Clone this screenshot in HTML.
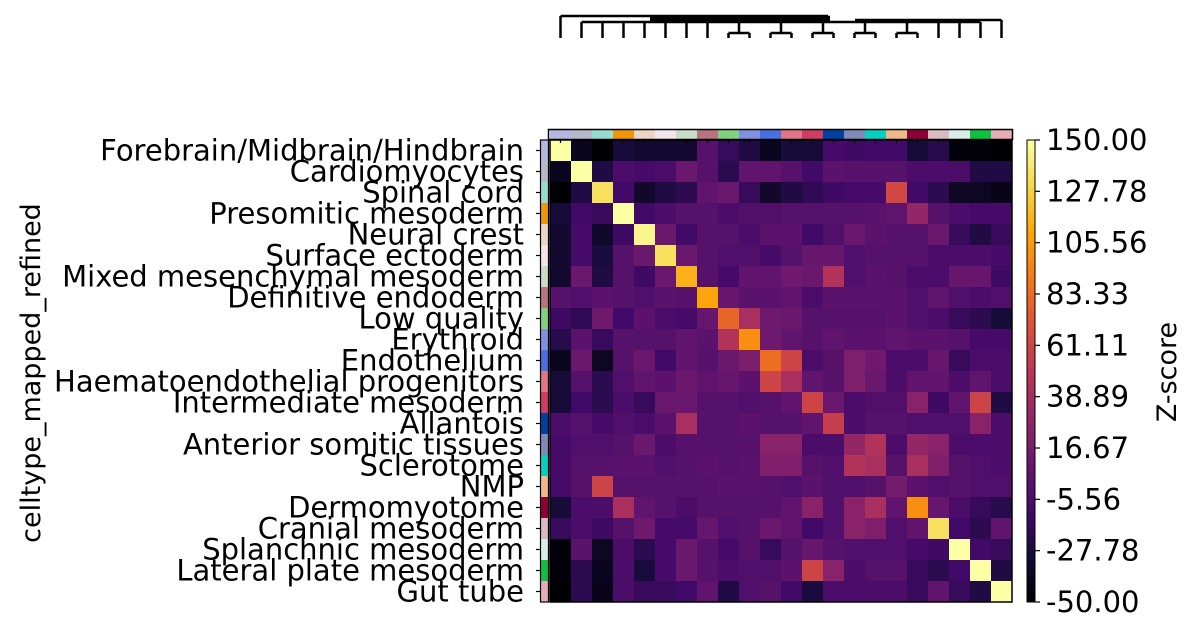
<!DOCTYPE html>
<html><head><meta charset="utf-8"><style>
body{margin:0;background:#fff;width:1199px;height:634px;overflow:hidden}
svg text{font-family:"DejaVu Sans","Liberation Sans",sans-serif}
</style></head><body>
<svg id="chart" width="1199" height="634" xmlns="http://www.w3.org/2000/svg"></svg>
<script>
const categories=["Forebrain/Midbrain/Hindbrain","Cardiomyocytes","Spinal cord","Presomitic mesoderm","Neural crest","Surface ectoderm","Mixed mesenchymal mesoderm","Definitive endoderm","Low quality","Erythroid","Endothelium","Haematoendothelial progenitors","Intermediate mesoderm","Allantois","Anterior somitic tissues","Sclerotome","NMP","Dermomyotome","Cranial mesoderm","Splanchnic mesoderm","Lateral plate mesoderm","Gut tube"];
const categoryColors=["#b4b8e0","#b8b8cc","#98dcd0","#f0960a","#ecd4c8","#f4e4ec","#c8dcc8","#b87480","#80d080","#8090e0","#4870e0","#e07488","#d03c64","#0040a0","#8088b8","#08d0c0","#f0b888","#900038","#d8bcc0","#d8ece8","#10c040","#e8acb8"];
const zscores=[
[150,-40,-50,-30,-33,-33,-33,0,-15,-25,-40,-30,-30,-8,-12,-10,-10,-30,-22,-48,-48,-50],
[-40,150,-25,-5,-8,-5,10,0,-20,5,5,0,-10,2,0,0,0,-5,-5,-5,-25,-25],
[-50,-25,135,-10,-35,-25,-20,5,10,-15,-35,-25,-18,-12,-8,-8,62,-10,-20,-38,-38,-42],
[-30,-10,-15,150,-10,-5,0,0,-5,-2,-2,0,0,0,0,2,4,30,0,-5,-8,-8],
[-33,-8,-35,-12,145,10,-10,0,0,-5,3,3,-10,-2,10,2,0,0,10,-15,-25,-15],
[-33,-8,-28,0,10,135,10,0,-3,-3,-8,0,8,8,-3,0,0,0,-5,-5,-5,-8],
[-33,10,-25,0,-12,10,115,0,-8,5,5,12,10,45,-3,2,0,-5,-5,8,8,-12],
[0,-3,3,0,-3,2,0,110,8,2,2,5,-5,2,2,2,2,-3,5,-3,-5,-2],
[-12,-18,12,-10,3,-5,-8,8,80,40,12,10,0,0,0,0,2,-3,-5,-15,-20,-30],
[-22,2,-15,0,0,0,5,2,45,100,12,5,0,5,2,3,5,3,3,0,-8,-8],
[-40,10,-38,0,10,-10,5,0,10,18,85,60,-5,0,20,12,-5,-5,8,-15,-5,-5],
[-30,0,-20,-3,5,3,10,5,8,3,60,40,5,0,20,10,-5,5,5,-5,5,-5],
[-30,-10,-20,-5,-15,10,10,0,0,-3,0,5,60,10,-5,-2,-2,25,-12,5,60,-25],
[-5,0,-8,-3,-5,3,40,0,0,3,0,0,5,55,-5,0,0,-3,-3,-3,25,-5],
[-8,-3,-3,0,10,-5,0,0,0,0,25,25,-5,-5,30,45,-5,30,25,-5,-5,-5],
[-8,0,0,2,2,-3,0,2,0,2,20,20,0,-3,45,40,0,40,20,0,-3,-5],
[-8,0,60,0,0,0,0,0,2,2,0,-3,2,-3,-3,0,15,3,-3,0,-3,-3],
[-30,-5,-5,40,5,0,-5,0,0,0,0,5,25,-3,25,40,5,100,8,-5,-15,-22],
[-15,-5,-12,0,12,-8,-8,8,-3,0,10,5,-10,-3,25,20,-3,5,135,-10,-20,5],
[-48,2,-38,-5,-20,-8,10,0,-8,0,-15,0,8,0,-3,-3,-3,-8,-12,150,-10,-15],
[-48,-20,-40,-5,-28,-8,10,0,-5,-3,-3,3,60,25,-5,0,0,-15,-20,-10,150,-25],
[-50,-20,-42,-5,-15,-15,-10,5,-25,-3,0,-10,-28,-5,-5,-5,-5,-15,5,-15,-25,150]];
const colorbarTicks=["150.00","127.78","105.56","83.33","61.11","38.89","16.67","-5.56","-27.78","-50.00"];
const vmin=-50, vmax=150;

const NS="http://www.w3.org/2000/svg", svg=document.getElementById('chart');
const X0=550,Y0=140,W=462,H=462,n=categories.length,cw=W/n,ch=H/n;
const xs=i=>X0+i*cw, ys=i=>Y0+i*ch;
const stops=["#000004","#160b39","#420a68","#6a176e","#932667","#bc3754","#dd513a","#f37819","#fca50a","#f6d746","#fcffa4"].map(h=>[1,3,5].map(k=>parseInt(h.substr(k,2),16)));
function cmap(v){let t=Math.max(0,Math.min(1,(v-vmin)/(vmax-vmin)))*10;let i=Math.min(9,Math.floor(t)),f=t-i;const a=stops[i],b=stops[i+1];return `rgb(${a.map((c,k)=>Math.round(c+(b[k]-c)*f)).join(',')})`;}
function el(tag,attrs,parent){const e=document.createElementNS(NS,tag);for(const k in attrs)e.setAttribute(k,attrs[k]);(parent||svg).appendChild(e);return e;}

const g=el('g',{});


zscores.forEach((row,r)=>row.forEach((v,c)=>{
  const rc=el('rect',{x:xs(c),y:ys(r),width:cw+0.5,height:ch+0.5,fill:cmap(v)},g);
  
  
}));
const fr=el('rect',{x:X0,y:Y0,width:W,height:H,fill:'none',stroke:'#000','stroke-width':1.5});



categoryColors.forEach((col,i)=>{
  const a=el('rect',{x:xs(i),y:130,width:cw+0.3,height:9,fill:col});
  
  
  const b=el('rect',{x:541,y:ys(i),width:7,height:ch+0.3,fill:col});
  
  
  el('line',{x1:xs(i)+cw/2,x2:xs(i)+cw/2,y1:139,y2:143,stroke:'#000','stroke-width':1.2});
  el('line',{x1:536,x2:541,y1:ys(i)+ch/2,y2:ys(i)+ch/2,stroke:'#000','stroke-width':1.2});
  const t=el('text',{x:524,y:ys(i)+ch/2+10,'text-anchor':'end','font-size':29,fill:'#000'});
  t.textContent=categories[i];
  
  
});
el('rect',{x:548.5,y:129.5,width:W+2,height:10,fill:'none',stroke:'#000','stroke-width':1.5});
el('rect',{x:540.5,y:Y0,width:8,height:H,fill:'none',stroke:'#000','stroke-width':1.2});

const yt=el('text',{x:40,y:373,'text-anchor':'middle','font-size':27,transform:'rotate(-90 40 373)'});
yt.textContent='celltype_mapped_refined';



const dg=el('g',{stroke:'#000','stroke-width':2.5,fill:'none'});


const lx=i=>xs(i)+cw/2;
function ln(x1,y1,x2,y2){el('line',{x1,y1,x2,y2},dg);}
ln(lx(0),16,828,16);ln(lx(0),16,lx(0),38);
ln(lx(1),22,lx(20),22);ln(855,20,lx(21),20);ln(lx(21),20,lx(21),38);
for(const i of [1,2,3,4,5,6,7,18,19,20])ln(lx(i),22,lx(i),38);
for(const y of [17,18,19,20])ln(650,y,830,y);
for(const p of [[8,9],[10,11],[12,13],[14,15],[16,17]]){const m=(lx(p[0])+lx(p[1]))/2;ln(lx(p[0]),33,lx(p[1]),33);ln(lx(p[0]),33,lx(p[0]),38);ln(lx(p[1]),33,lx(p[1]),38);ln(m,22,m,33);}

const defs=el('defs',{});const lg=el('linearGradient',{id:'cbg',x1:0,y1:1,x2:0,y2:0},defs);
for(let k=0;k<=20;k++)el('stop',{offset:k/20,'stop-color':cmap(vmin+k/20*(vmax-vmin))},lg);
const cb=el('rect',{x:1027,y:Y0,width:8,height:H,fill:'url(#cbg)',stroke:'#000','stroke-width':1});


colorbarTicks.forEach((lab,k)=>{
  const y=Y0+k*H/(colorbarTicks.length-1);
  el('line',{x1:1035,x2:1040,y1:y,y2:y,stroke:'#000','stroke-width':1.2});
  const t=el('text',{x:1046,y:y+10,'font-size':29});
  t.textContent=lab;
  
  
});
const zt=el('text',{x:1176,y:372,'text-anchor':'middle','font-size':27,transform:'rotate(-90 1176 372)'});
zt.textContent='Z-score';


</script>
</body></html>
